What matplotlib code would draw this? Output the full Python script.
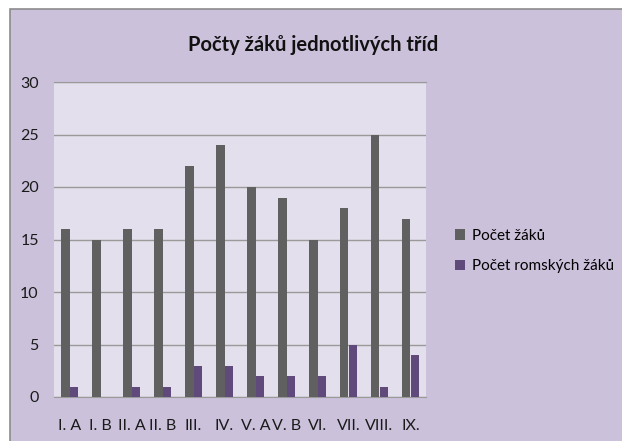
import matplotlib.pyplot as plt
import numpy as np
from matplotlib.patches import Rectangle

tridy = ["I. A", "I. B", "II. A", "II. B", "III.", "IV.", "V. A", "V. B", "VI.", "VII.", "VIII.", "IX."]
pocet_zaku = [16, 15, 16, 16, 22, 24, 20, 19, 15, 18, 25, 17]
pocet_romskych = [1, 0, 1, 1, 3, 3, 2, 2, 2, 5, 1, 4]

plt.rcParams['font.family'] = ['Lato', 'DejaVu Sans']

W, H = 622, 441
fig = plt.figure(figsize=(W / 100, H / 100), dpi=100, facecolor="white")

# lavender chart area with gray border (behind the axes)
fig.patches.append(Rectangle((10 / W, -0.1), 1.2, 1 - 9 / H + 0.1, transform=fig.transFigure,
                             facecolor="#CBC1DB", edgecolor="#8C8C8C", lw=1.2, zorder=-5))

ax = fig.add_axes([54 / W, 1 - 397 / H, (426 - 54) / W, (397 - 82) / H])
ax.set_facecolor("#E4DFEC")

x = np.arange(len(tridy))
w = 0.26
ax.bar(x - w / 2, pocet_zaku, w, color="#606060", label="Počet žáků", zorder=3)
ax.bar(x + w / 2, pocet_romskych, w, color="#604A7B", label="Počet romských žáků", zorder=3)

ax.set_xlim(-0.5, len(tridy) - 0.5)
ax.set_ylim(0, 30)
ax.set_yticks(range(0, 31, 5))
ax.set_xticks(x)
ax.set_xticklabels(tridy)
ax.grid(axis="y", color="#9A9A9A", lw=1, zorder=1)
ax.tick_params(length=0, labelsize=11.5, colors="#1a1a1a")
ax.tick_params(axis="x", pad=16)
ax.tick_params(axis="y", pad=11)
for s in ["left", "right"]:
    ax.spines[s].set_visible(False)
ax.spines["top"].set_color("#9A9A9A")
ax.spines["bottom"].set_color("#9A9A9A")

fig.text(313 / W, 1 - 45 / H, "Počty žáků jednotlivých tříd", ha="center", va="center",
         fontsize=14.5, fontweight="bold", color="#111111")

fig.legend(loc="center left", bbox_to_anchor=(441 / W, 1 - 251 / H), frameon=False,
           fontsize=11, handlelength=0.7, handleheight=0.7, labelspacing=1.1, handletextpad=0.4)

fig.savefig("out.png", dpi=100, facecolor="white")
